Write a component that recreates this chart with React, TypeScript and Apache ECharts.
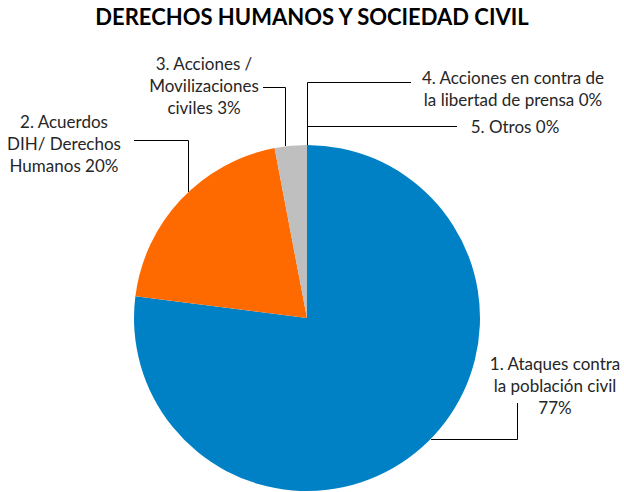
import React, { useEffect, useRef } from "react";
import * as echarts from "echarts";

const title = "DERECHOS HUMANOS Y SOCIEDAD CIVIL";
const categories = [
  "1. Ataques contra\nla población civil\n",
  "2. Acuerdos\nDIH/ Derechos\nHumanos ",
  "3. Acciones /\nMovilizaciones\nciviles ",
  "4. Acciones en contra de\nla libertad de prensa ",
  "5. Otros ",
];
const values = [77, 20, 3, 0, 0];
const colors = ["#0081C6", "#FF6A00", "#BFBFBF", "#FFC000", "#5B9BD5"];

// label layout: [labelX, labelY, linePoints]
const labelPos: { x: number; y: number; pts: number[][] }[] = [
  { x: 555, y: 385, pts: [[431, 439.5], [517.5, 439.5], [517.5, 403]] },
  { x: 64, y: 143, pts: [[188.5, 192], [188.5, 140.5], [134, 140.5]] },
  { x: 204, y: 85, pts: [[285.5, 146], [285.5, 87.5], [263, 87.5]] },
  { x: 513, y: 88, pts: [[307.5, 145], [307.5, 82.5], [411, 82.5]] },
  { x: 515, y: 126, pts: [[307.5, 145], [307.5, 126.5], [457, 126.5]] },
];

export default function App() {
  const ref = useRef<HTMLDivElement>(null);
  useEffect(() => {
    document.body.style.margin = "0";
    const chart = echarts.init(ref.current!, null, { renderer: "svg" });
    chart.setOption({
      animation: false,
      title: {
        text: title,
        left: "center",
        top: 0,
        textStyle: { fontFamily: "Lato", fontWeight: "bold", fontSize: 22, color: "#000" },
      },
      series: [
        {
          type: "pie",
          center: [307, 318],
          radius: 173,
          startAngle: 90,
          clockwise: true,
          color: colors,
          data: categories.map((c, i) => ({ name: c, value: values[i] })),
          label: {
            show: true,
            formatter: (p: any) => `${p.name}${Math.round(p.percent)}%`,
            fontFamily: "Lato",
            fontSize: 17,
            lineHeight: 22,
            color: "#262626",
            align: "center",
            overflow: "none",
            width: 260,
          },
          labelLine: { show: true, lineStyle: { color: "#000", width: 1 } },
          labelLayout: (params: any) => {
            const l = labelPos[params.dataIndex];
            return {
              x: l.x,
              y: l.y,
              align: "center",
              verticalAlign: "middle",
              labelLinePoints: l.pts,
            };
          },
          emphasis: { disabled: true },
        },
      ],
    });
    return () => chart.dispose();
  }, []);
  return <div ref={ref} style={{ width: 624, height: 492 }} />;
}
